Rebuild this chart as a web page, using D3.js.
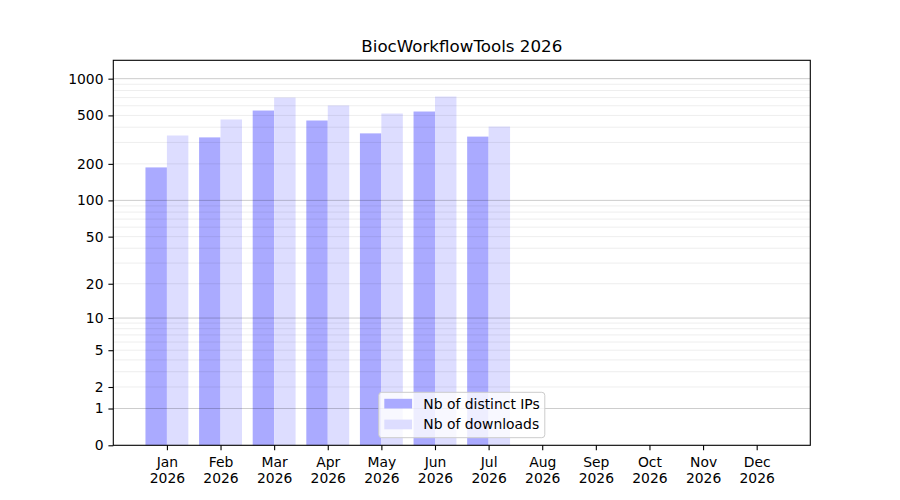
<!DOCTYPE html>
<html lang="en">
<head>
  <meta charset="UTF-8"/>
  <title>BiocWorkflowTools 2026</title>
  <script src="https://d3js.org/d3.v7.min.js"></script>
  <style>
    body { margin: 0; background: #fff; }
    text { font-family: "DejaVu Sans", sans-serif; fill: #000; }
  </style>
</head>
<body>
<svg id="chart" width="900" height="500"></svg>
<script>
// values
const months = ["Jan", "Feb", "Mar", "Apr", "May", "Jun", "Jul", "Aug", "Sep", "Oct", "Nov", "Dec"];
const year = "2026";
const distinctIPs = [187, 330, 548, 454, 356, 538, 335];
const downloads = [342, 463, 700, 603, 518, 714, 405];
const yTicks = [0, 1, 2, 5, 10, 20, 50, 100, 200, 500, 1000];
const yMajorGrid = [1, 10, 100, 1000];
const yMinorGrid = [2, 3, 4, 5, 6, 7, 8, 9, 20, 30, 40, 50, 60, 70, 80, 90,
                    200, 300, 400, 500, 600, 700, 800, 900];
const yMax = 1414;

const plotLeft = 113.3, plotRight = 810.3, plotTop = 60.3, plotBottom = 445.3;

const svg = d3.select("#chart");

// months sit at 1..12, axis runs 0..13
const x = d3.scaleLinear().domain([0, 13]).range([plotLeft, plotRight]);
const y = d3.scaleSymlog().constant(1).domain([0, yMax]).range([plotBottom, plotTop]);
const barW = (x(1) - x(0)) * 0.4;

/* bars */
svg.append("g").selectAll("rect")
  .data(distinctIPs)
  .join("rect")
  .attr("x", (d, i) => x(i + 1) - barW)
  .attr("y", d => y(d))
  .attr("width", barW)
  .attr("height", d => y(0) - y(d))
  .attr("fill", "#aaaaff");

svg.append("g").selectAll("rect")
  .data(downloads)
  .join("rect")
  .attr("x", (d, i) => x(i + 1))
  .attr("y", d => y(d))
  .attr("width", barW)
  .attr("height", d => y(0) - y(d))
  .attr("fill", "#ddddff");

/* grid lines, drawn over the bars */
svg.append("g").selectAll("line")
  .data(yMinorGrid)
  .join("line")
  .attr("x1", plotLeft).attr("x2", plotRight)
  .attr("y1", d => y(d)).attr("y2", d => y(d))
  .attr("stroke", "#000").attr("stroke-opacity", 0.07).attr("stroke-width", 1);

svg.append("g").selectAll("line")
  .data(yMajorGrid)
  .join("line")
  .attr("x1", plotLeft).attr("x2", plotRight)
  .attr("y1", d => y(d)).attr("y2", d => y(d))
  .attr("stroke", "#000").attr("stroke-opacity", 0.2).attr("stroke-width", 1);

/* axes */
const yAxis = d3.axisLeft(y).tickValues(yTicks).tickFormat(d3.format("d"))
  .tickSize(4.9).tickPadding(4.9);
svg.append("g")
  .attr("transform", `translate(${plotLeft},0)`)
  .call(yAxis)
  .call(g => g.select(".domain").remove())
  .call(g => g.selectAll("text").style("font-size", "13.9px").attr("font-family", null))
  .call(g => g.selectAll("line").attr("stroke", "#000").attr("stroke-width", 1.1));

const xAxis = d3.axisBottom(x).tickValues(d3.range(1, 13)).tickFormat(() => "")
  .tickSize(4.9);
const xg = svg.append("g")
  .attr("transform", `translate(0,${plotBottom})`)
  .call(xAxis)
  .call(g => g.select(".domain").remove())
  .call(g => g.selectAll("line").attr("stroke", "#000").attr("stroke-width", 1.1));

xg.selectAll(".tick text").remove();
xg.selectAll(".tick").append("text")
  .attr("text-anchor", "middle")
  .style("font-size", "13.9px")
  .each(function(d) {
    const t = d3.select(this);
    t.append("tspan").attr("x", 0).attr("y", 21.5).text(months[d - 1]);
    t.append("tspan").attr("x", 0).attr("y", 37.5).text(year);
  });

// frame
svg.append("rect")
  .attr("x", plotLeft).attr("y", plotTop)
  .attr("width", plotRight - plotLeft).attr("height", plotBottom - plotTop)
  .attr("fill", "none").attr("stroke", "#000").attr("stroke-width", 1.1);

/* title */
svg.append("text")
  .attr("x", (plotLeft + plotRight) / 2)
  .attr("y", 51.7)
  .attr("text-anchor", "middle")
  .style("font-size", "16.7px")
  .text("BiocWorkflowTools 2026");

/* legend, lower center */
const legendItems = [
  {label: "Nb of distinct IPs", color: "#aaaaff"},
  {label: "Nb of downloads", color: "#ddddff"}
];
const lgW = 166, lgH = 45.4;
const lg = svg.append("g")
  .attr("transform", `translate(${(plotLeft + plotRight) / 2 - lgW / 2},${392.3})`);
lg.append("rect")
  .attr("width", lgW).attr("height", lgH)
  .attr("rx", 3).attr("ry", 3)
  .attr("fill", "#fff").attr("fill-opacity", 0.8)
  .attr("stroke", "#cccccc").attr("stroke-width", 1);
const li = lg.selectAll("g.item")
  .data(legendItems)
  .join("g")
  .attr("class", "item")
  .attr("transform", (d, i) => `translate(0,${i * 20.8})`);
li.append("rect")
  .attr("x", 5.5).attr("y", 6.5)
  .attr("width", 27.8).attr("height", 9.7)
  .attr("fill", d => d.color);
li.append("text")
  .attr("x", 44.5).attr("y", 16.3)
  .style("font-size", "13.9px")
  .text(d => d.label);
</script>
</body>
</html>
